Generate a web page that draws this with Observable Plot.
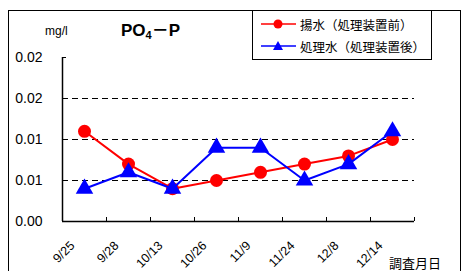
<!DOCTYPE html>
<html><head><meta charset="utf-8">
<script src="https://cdn.jsdelivr.net/npm/d3@7"></script>
<script src="https://cdn.jsdelivr.net/npm/@observablehq/plot@0.6"></script>
<style>
body{margin:0;background:#fff;}
#wrap{position:relative;width:466px;height:271px;overflow:hidden;font-family:"Liberation Sans",Arial,"Noto Sans CJK JP",sans-serif;color:#000;}
#frame{position:absolute;left:8px;top:10px;width:453px;height:300px;border:1px solid #000;box-sizing:border-box;}
#chart{position:absolute;left:0;top:0;}
#title{position:absolute;left:121px;top:16px;font-size:17px;font-weight:bold;white-space:nowrap;}
#title sub{font-size:11px;vertical-align:-3px;}
#title .dash{font-family:"Noto Sans CJK JP",sans-serif;font-weight:bold;}
#unit{position:absolute;left:45px;top:24px;font-size:12px;}
#xlab{position:absolute;left:389px;top:253px;font-size:13px;font-family:"Noto Sans CJK JP",sans-serif;}
#legend{position:absolute;left:252px;top:10px;width:180px;height:50px;border:1px solid #000;box-sizing:border-box;background:#fff;font-family:"Noto Sans CJK JP",sans-serif;font-size:12.5px;}
#legend .row{position:absolute;left:6px;height:16px;display:flex;align-items:center;white-space:nowrap;}
#legend svg{margin-right:3px;}
</style></head>
<body>
<div id="wrap">
  <div id="frame"></div>
  <div id="chart"></div>
  <div id="unit">mg/l</div>
  <div id="title">PO<sub>4</sub><span class="dash">－</span>P</div>
  <div id="legend"></div>
  <div id="xlab">調査月日</div>
</div>
<script>
const dates = ["9/25","9/28","10/13","10/26","11/9","11/24","12/8","12/14"];
const pumped = [0.011, 0.007, 0.004, 0.005, 0.006, 0.007, 0.008, 0.010];
const treated = [0.004, 0.006, 0.004, 0.009, 0.009, 0.005, 0.007, 0.011];
const seriesNames = ["揚水（処理装置前）", "処理水（処理装置後）"];
const seriesColors = ["#ff0000", "#0000ff"];
const yTicks = [0, 0.005, 0.01, 0.015, 0.02];
const yTickLabels = ["0.00", "0.01", "0.01", "0.02", "0.02"];
const gridValues = [0.005, 0.01, 0.015];

const bounds = d3.range(dates.length + 1).map(i => i - 0.5);

const chart = Plot.plot({
  width: 466, height: 271,
  marginLeft: 62, marginRight: 52, marginTop: 57, marginBottom: 50,
  x: {type: "linear", domain: [-0.5, dates.length - 0.5], axis: null},
  y: {domain: [0, 0.02]},
  style: {background: "transparent", fontFamily: "'Liberation Sans', Arial, sans-serif", color: "#000"},
  marks: [
    Plot.ruleY(gridValues, {y: d => d, stroke: "#000", strokeDasharray: "6,4", strokeWidth: 1}),
    Plot.tickX(bounds, {x: d => d, insetTop: 160, stroke: "#000", strokeWidth: 1}),
    Plot.tickY(yTicks, {y: d => d, insetRight: 348, stroke: "#000", strokeWidth: 1}),
    Plot.ruleY([0], {stroke: "#000", strokeWidth: 1.5}),
    Plot.ruleX([-0.5], {stroke: "#000", strokeWidth: 1.5}),
    Plot.axisY({ticks: yTicks, tickSize: 0, tickPadding: 20, fontSize: 14, label: null,
      tickFormat: d => yTickLabels[Math.round(d / 0.005)]}),
    Plot.text(dates, {x: (d, i) => i, text: d => d, frameAnchor: "bottom", rotate: -45,
      textAnchor: "end", lineAnchor: "middle", dx: -12, dy: 22, fontSize: 12.5, fill: "#000"}),
    Plot.line(pumped, {x: (d, i) => i, y: d => d, stroke: seriesColors[0], strokeWidth: 2}),
    Plot.dot(pumped, {x: (d, i) => i, y: d => d, r: 6.5, fill: seriesColors[0], symbol: "circle"}),
    Plot.line(treated, {x: (d, i) => i, y: d => d, stroke: seriesColors[1], strokeWidth: 2}),
    Plot.dot(treated, {x: (d, i) => i, y: d => d, r: 6.5, fill: seriesColors[1], symbol: "triangle"})
  ]
});
document.getElementById("chart").appendChild(chart);

const legend = document.getElementById("legend");
seriesNames.forEach((name, k) => {
  const row = document.createElement("div");
  row.className = "row";
  row.style.top = (k === 0 ? 5 : 27) + "px";
  const sym = k === 0
    ? `<circle cx="19" cy="8" r="4.5" fill="${seriesColors[k]}"/>`
    : `<path d="M19,3 L24,12 L14,12 Z" fill="${seriesColors[k]}"/>`;
  row.innerHTML = `<svg width="38" height="16"><line x1="2" x2="37" y1="8" y2="8" stroke="${seriesColors[k]}" stroke-width="1.5"/>${sym}</svg><span>${name}</span>`;
  legend.appendChild(row);
});
</script>
</body></html>
